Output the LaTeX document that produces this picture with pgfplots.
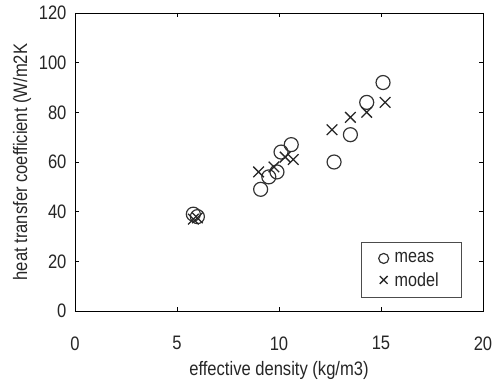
\documentclass[border=0pt]{standalone}
\usepackage{pgfplots}
\pgfplotsset{compat=1.18}
\usepackage{fontspec}
\setmainfont{Liberation Sans}
\newfontfamily\cf[FakeStretch=0.85]{Liberation Sans}
\begin{document}
\begin{tikzpicture}
\useasboundingbox (-75pt,-69pt) rectangle (429pt,311pt);
\begin{axis}[
  at={(0,0)}, anchor=south west,
  scale only axis,
  width=408pt, height=298pt,
  xmin=0, xmax=20, ymin=0, ymax=120,
  xtick={0,5,10,15,20}, ytick={0,20,...,120},
  tick align=inside, major tick length=4pt,
  tick style={black, line width=0.6pt},
  axis line style={black, line width=0.9pt},
  /pgf/number format/assume math mode=true,
  ticklabel style={font=\cf\fontsize{19.5}{22}\selectfont, text=black!85},
  xticklabel style={yshift=-22pt},
  yticklabel style={xshift=-5pt},
  xlabel={effective density (kg/m3)},
  ylabel={heat transfer coefficient (W/m2K},
  label style={font=\cf\fontsize{19.5}{22}\selectfont, text=black!85},
  xlabel style={at={(axis description cs:0.5,-0.2)}, anchor=center},
  ylabel style={at={(axis description cs:-0.13,0.5)}, anchor=center},
  legend style={at={(0.9485,0.044)}, anchor=south east, draw=black!70, line width=0.6pt,
    font=\cf\fontsize{19}{22}\selectfont, inner xsep=17pt, inner ysep=8pt, row sep=4pt,
    nodes={text=black!85, inner xsep=6pt}},
  legend cell align=left,
]
\addplot[only marks, mark=o, mark size=7pt, black!80, line width=1.2pt,
  legend image post style={mark size=5pt}] coordinates {
(5.8,39) (6.0,38) (9.1,49) (9.5,54) (9.9,56) (10.1,64) (10.6,67)
(12.7,60) (13.5,71) (14.3,84) (15.1,92)
};
\addlegendentry{meas}
\addplot[only marks, mark=x, mark size=7.5pt, black!85, line width=1.3pt,
  legend image post style={mark size=5.5pt}] coordinates {
(5.8,37) (6.0,37.5) (9.0,56) (9.75,58) (10.3,62) (10.7,61)
(12.6,73) (13.5,78) (14.3,80) (15.2,84)
};
\addlegendentry{model}
\end{axis}
\end{tikzpicture}
\end{document}
